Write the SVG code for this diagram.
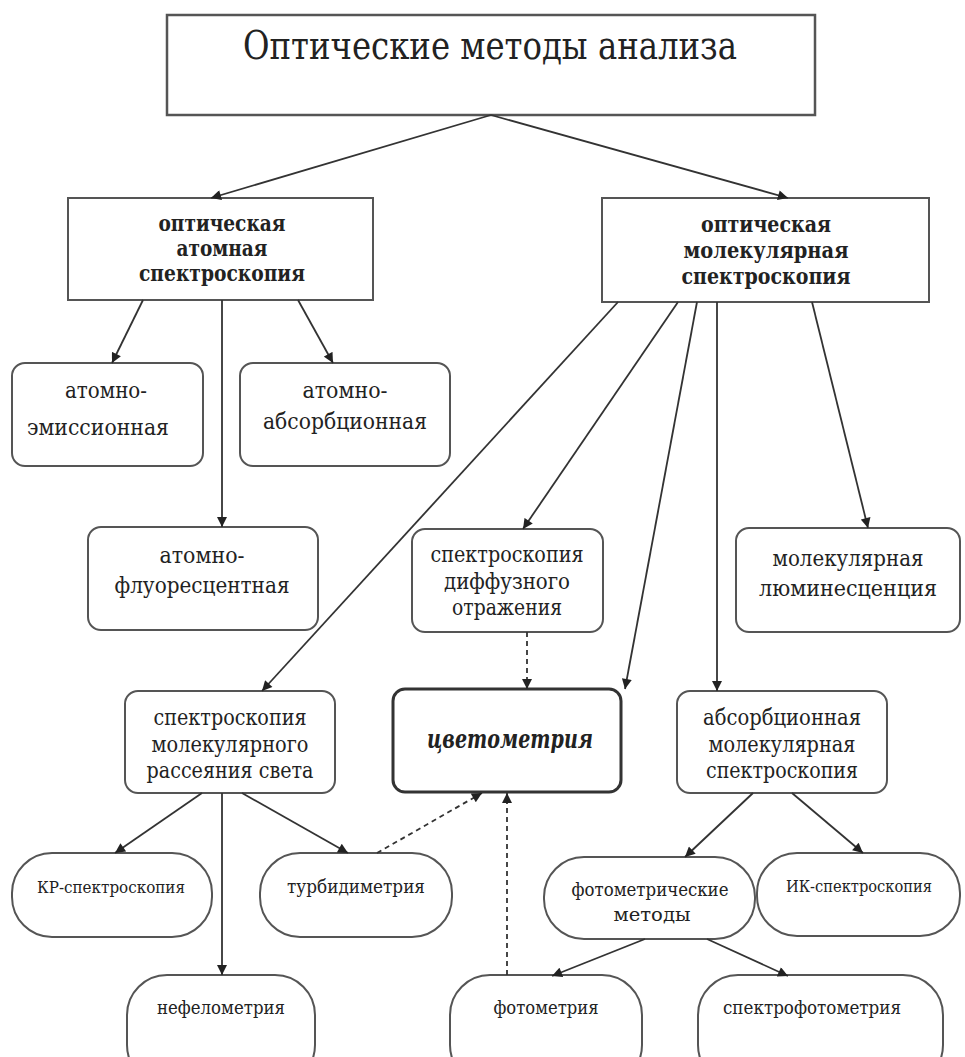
<svg xmlns="http://www.w3.org/2000/svg" width="965" height="1057" viewBox="0 0 965 1057">
  <style>
    .box { fill: #fff; stroke: #555; stroke-width: 2; }
    .title { fill: #fff; stroke: #555; stroke-width: 2.5; }
    .main { fill: #fff; stroke: #333; stroke-width: 3; }
    text { font-family: "DejaVu Serif", "Liberation Serif", serif; fill: #222; text-anchor: middle; }
    .t-title { font-size: 40px; }
    .t-bold { font-size: 23px; font-weight: bold; }
    .t-node { font-size: 23px; }
    .t-small { font-size: 19px; }
    .t-tiny { font-size: 17px; }
    .t-main { font-size: 26px; font-weight: bold; font-style: italic; }
    .conn line { stroke: #333; stroke-width: 1.8; marker-end: url(#arr); }
    .conn line.dash { stroke-dasharray: 5 4; }
  </style>
  <defs>
    <marker id="arr" viewBox="0 0 10 10" refX="10" refY="5" markerWidth="11" markerHeight="10" markerUnits="userSpaceOnUse" orient="auto">
      <path d="M0,0 L10,5 L0,10 z" fill="#222"/>
    </marker>
  </defs>
  <rect width="965" height="1057" fill="#fff"/>

  <g id="title">
    <rect class="title" x="167" y="15" width="648" height="100"/>
    <text class="t-title" x="490" y="59" textLength="494" lengthAdjust="spacingAndGlyphs">Оптические методы анализа</text>
  </g>

  <g id="atomic">
    <rect class="box" x="68" y="198" width="305" height="102"/>
    <text class="t-bold" x="222" y="231" textLength="127" lengthAdjust="spacingAndGlyphs">оптическая</text>
    <text class="t-bold" x="222" y="256" textLength="91" lengthAdjust="spacingAndGlyphs">атомная</text>
    <text class="t-bold" x="222" y="281" textLength="166" lengthAdjust="spacingAndGlyphs">спектроскопия</text>
  </g>

  <g id="molecular">
    <rect class="box" x="602" y="198" width="327" height="104"/>
    <text class="t-bold" x="766" y="232" textLength="130" lengthAdjust="spacingAndGlyphs">оптическая</text>
    <text class="t-bold" x="766" y="258" textLength="165" lengthAdjust="spacingAndGlyphs">молекулярная</text>
    <text class="t-bold" x="766" y="284" textLength="169" lengthAdjust="spacingAndGlyphs">спектроскопия</text>
  </g>

  <g id="emission">
    <rect class="box" x="12" y="363" width="191" height="103" rx="13"/>
    <text class="t-node" x="106" y="398" textLength="82" lengthAdjust="spacingAndGlyphs">атомно-</text>
    <text class="t-node" x="98" y="435" textLength="142" lengthAdjust="spacingAndGlyphs">эмиссионная</text>
  </g>

  <g id="absorption-atomic">
    <rect class="box" x="240" y="363" width="210" height="103" rx="13"/>
    <text class="t-node" x="345" y="398" textLength="85" lengthAdjust="spacingAndGlyphs">атомно-</text>
    <text class="t-node" x="345" y="429" textLength="164" lengthAdjust="spacingAndGlyphs">абсорбционная</text>
  </g>

  <g id="fluorescence">
    <rect class="box" x="88" y="527" width="230" height="103" rx="13"/>
    <text class="t-node" x="202" y="563" textLength="85" lengthAdjust="spacingAndGlyphs">атомно-</text>
    <text class="t-node" x="202" y="593" textLength="175" lengthAdjust="spacingAndGlyphs">флуоресцентная</text>
  </g>

  <g id="diffuse">
    <rect class="box" x="412" y="529" width="191" height="103" rx="13"/>
    <text class="t-node" x="507" y="562" textLength="153" lengthAdjust="spacingAndGlyphs">спектроскопия</text>
    <text class="t-node" x="507" y="589" textLength="126" lengthAdjust="spacingAndGlyphs">диффузного</text>
    <text class="t-node" x="507" y="615" textLength="110" lengthAdjust="spacingAndGlyphs">отражения</text>
  </g>

  <g id="luminescence">
    <rect class="box" x="736" y="528" width="224" height="104" rx="13"/>
    <text class="t-node" x="848" y="566" textLength="151" lengthAdjust="spacingAndGlyphs">молекулярная</text>
    <text class="t-node" x="848" y="596" textLength="178" lengthAdjust="spacingAndGlyphs">люминесценция</text>
  </g>

  <g id="scattering">
    <rect class="box" x="125" y="691" width="210" height="102" rx="13"/>
    <text class="t-node" x="230" y="725" textLength="153" lengthAdjust="spacingAndGlyphs">спектроскопия</text>
    <text class="t-node" x="230" y="752" textLength="157" lengthAdjust="spacingAndGlyphs">молекулярного</text>
    <text class="t-node" x="230" y="778" textLength="167" lengthAdjust="spacingAndGlyphs">рассеяния света</text>
  </g>

  <g id="colorimetry">
    <rect class="main" x="393" y="689" width="228" height="103" rx="12"/>
    <text class="t-main" x="510" y="748" textLength="166" lengthAdjust="spacingAndGlyphs">цветометрия</text>
  </g>

  <g id="absorption-molecular">
    <rect class="box" x="677" y="691" width="210" height="102" rx="13"/>
    <text class="t-node" x="782" y="725" textLength="158" lengthAdjust="spacingAndGlyphs">абсорбционная</text>
    <text class="t-node" x="782" y="752" textLength="147" lengthAdjust="spacingAndGlyphs">молекулярная</text>
    <text class="t-node" x="782" y="778" textLength="152" lengthAdjust="spacingAndGlyphs">спектроскопия</text>
  </g>

  <g id="raman">
    <rect class="box" x="12" y="853" width="200" height="84" rx="40"/>
    <text class="t-tiny" x="111" y="893" textLength="148" lengthAdjust="spacingAndGlyphs">КР-спектроскопия</text>
  </g>

  <g id="turbidimetry">
    <rect class="box" x="260" y="853" width="192" height="84" rx="40"/>
    <text class="t-small" x="356" y="893" textLength="138" lengthAdjust="spacingAndGlyphs">турбидиметрия</text>
  </g>

  <g id="photometric-methods">
    <rect class="box" x="544" y="857" width="211" height="82" rx="40"/>
    <text class="t-small" x="650" y="896" textLength="157" lengthAdjust="spacingAndGlyphs">фотометрические</text>
    <text class="t-small" x="652" y="921" textLength="77" lengthAdjust="spacingAndGlyphs">методы</text>
  </g>

  <g id="ir">
    <rect class="box" x="757" y="853" width="203" height="83" rx="40"/>
    <text class="t-tiny" x="859" y="892" textLength="146" lengthAdjust="spacingAndGlyphs">ИК-спектроскопия</text>
  </g>

  <g id="nephelometry">
    <rect class="box" x="127" y="975" width="188" height="110" rx="40"/>
    <text class="t-small" x="221" y="1014" textLength="128" lengthAdjust="spacingAndGlyphs">нефелометрия</text>
  </g>

  <g id="photometry">
    <rect class="box" x="450" y="975" width="192" height="110" rx="40"/>
    <text class="t-small" x="546" y="1014" textLength="105" lengthAdjust="spacingAndGlyphs">фотометрия</text>
  </g>

  <g id="spectrophotometry">
    <rect class="box" x="698" y="975" width="245" height="110" rx="40"/>
    <text class="t-small" x="812" y="1014" textLength="178" lengthAdjust="spacingAndGlyphs">спектрофотометрия</text>
  </g>

  <g class="conn" id="connectors">
    <line x1="491" y1="115" x2="211" y2="198"/>
    <line x1="491" y1="115" x2="788" y2="198"/>
    <line x1="143" y1="300" x2="112" y2="363"/>
    <line x1="222" y1="300" x2="222" y2="527"/>
    <line x1="298" y1="300" x2="333" y2="363"/>
    <line x1="618" y1="302" x2="262" y2="691"/>
    <line x1="678" y1="302" x2="523" y2="529"/>
    <line x1="697" y1="302" x2="625" y2="689"/>
    <line x1="717" y1="302" x2="717" y2="691"/>
    <line x1="812" y1="302" x2="868" y2="528"/>
    <line class="dash" x1="527" y1="632" x2="527" y2="689"/>
    <line x1="202" y1="793" x2="115" y2="853"/>
    <line x1="222" y1="793" x2="222" y2="975"/>
    <line x1="242" y1="793" x2="348" y2="853"/>
    <line class="dash" x1="377" y1="853" x2="482" y2="793"/>
    <line x1="753" y1="793" x2="685" y2="857"/>
    <line x1="792" y1="793" x2="863" y2="853"/>
    <line x1="645" y1="939" x2="552" y2="976"/>
    <line x1="707" y1="939" x2="788" y2="976"/>
    <line class="dash" x1="507" y1="975" x2="507" y2="793"/>
  </g>
</svg>
